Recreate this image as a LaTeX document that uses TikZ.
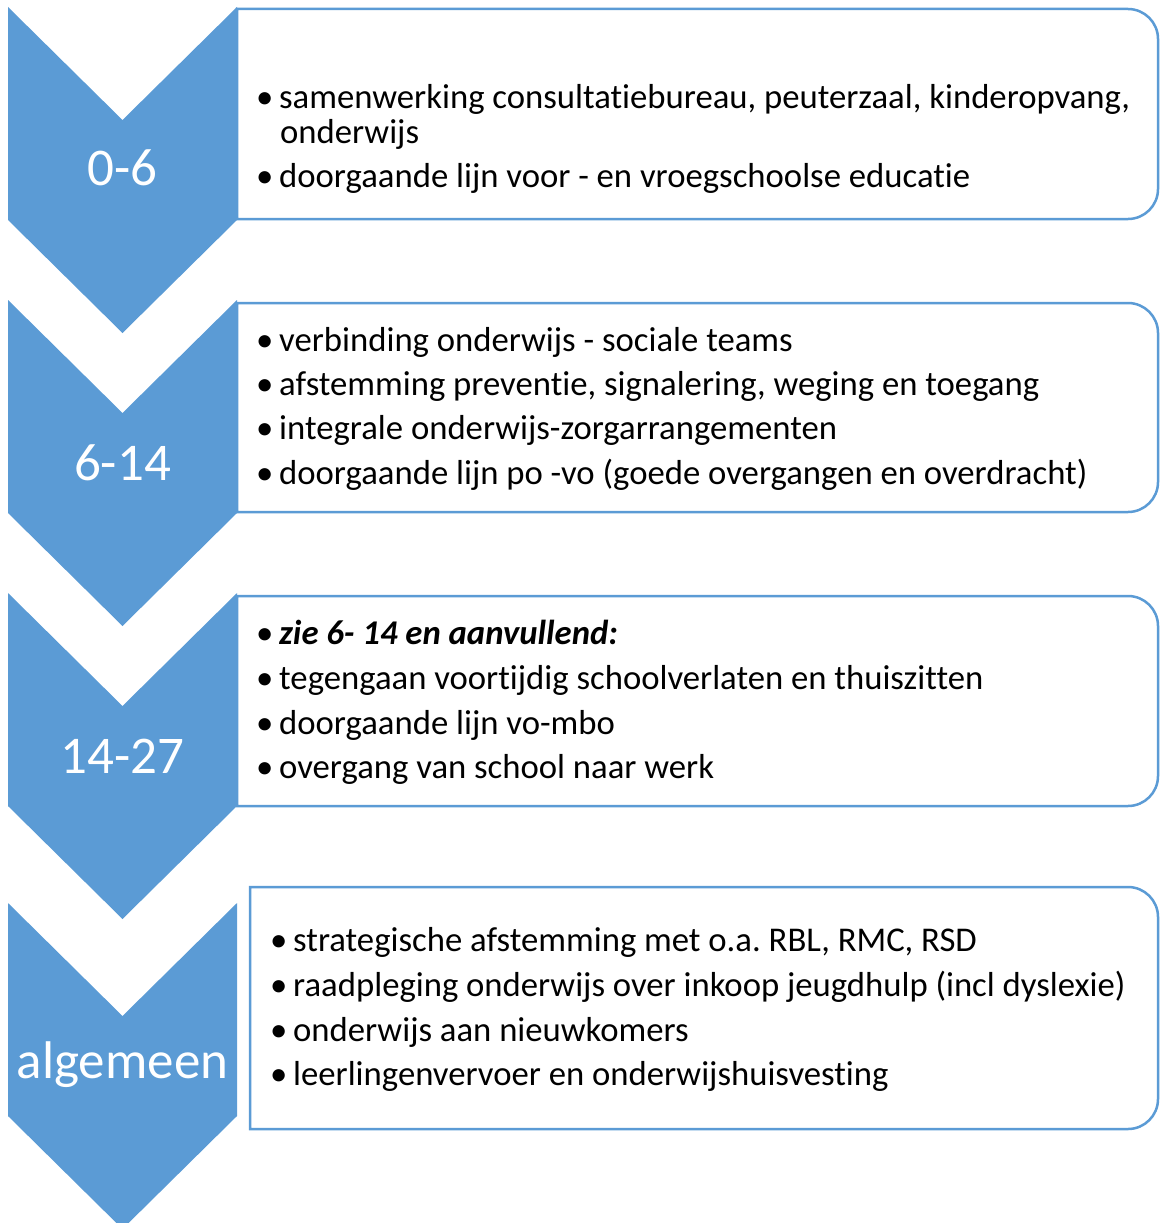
\documentclass[tikz,border=0pt]{standalone}
\usepackage{fontspec}
\setmainfont{Carlito}[Ligatures=NoCommon]
\usepackage{xcolor}
\usepackage{tikz}
\definecolor{accblue}{HTML}{5B9BD5}
\frenchspacing
\newcommand\itm{\makebox[23pt][l]{\textbullet}}
\newcommand\bodysize{\fontsize{34.7}{40}\selectfont}
\newcommand\agesize{\fontsize{53}{62}\selectfont}

\begin{document}
\begin{tikzpicture}[x=1pt,y=-1pt,
    line/.style={anchor=base west, inner sep=0pt, font=\bodysize},
    age/.style={text=white, inner sep=0pt, font=\agesize},
    panel/.style={draw=accblue, line width=2.5pt, fill=white}]
    \useasboundingbox (0,0) rectangle (1160,1223);

    % chevrons
    \fill[accblue] (8,7) -- (122.5,120) -- (237,7) -- (237,220) -- (122.5,333) -- (8,220) -- cycle;
    \fill[accblue] (8,300) -- (122.5,413) -- (237,300) -- (237,513) -- (122.5,626) -- (8,513) -- cycle;
    \fill[accblue] (8,593) -- (122.5,706) -- (237,593) -- (237,806) -- (122.5,919) -- (8,806) -- cycle;
    \fill[accblue] (8,903) -- (122.5,1016) -- (237,903) -- (237,1116) -- (122.5,1229) -- (8,1116) -- cycle;

    % panels
    \draw[panel] (237,9) -- (1128,9) arc[start angle=-90, end angle=0, radius=30]
        -- (1158,189) arc[start angle=0, end angle=90, radius=30] -- (237,219) -- cycle;
    \draw[panel] (237,303) -- (1128,303) arc[start angle=-90, end angle=0, radius=30]
        -- (1158,482) arc[start angle=0, end angle=90, radius=30] -- (237,512) -- cycle;
    \draw[panel] (237,596) -- (1128,596) arc[start angle=-90, end angle=0, radius=30]
        -- (1158,776) arc[start angle=0, end angle=90, radius=30] -- (237,806) -- cycle;
    \draw[panel] (250,887) -- (1128,887) arc[start angle=-90, end angle=0, radius=30]
        -- (1158,1099) arc[start angle=0, end angle=90, radius=30] -- (250,1129) -- cycle;

    \coordinate (Agea) at (122.5,168);
    \coordinate (Ageb) at (122.5,463);
    \coordinate (Agec) at (122.5,756);
    \coordinate (Aged) at (122.5,1065);

    \coordinate (Pa) at (256,108);
    \coordinate (Pawrap) at (280,143);
    \coordinate (Pb) at (256,187);

    \coordinate (Qa) at (256,351);
    \coordinate (Qb) at (256,395);
    \coordinate (Qc) at (256,439);
    \coordinate (Qd) at (256,484);

    \coordinate (Ra) at (256,644);
    \coordinate (Rb) at (256,689);
    \coordinate (Rc) at (256,734);
    \coordinate (Rd) at (256,778);

    \coordinate (Sa) at (270,951);
    \coordinate (Sb) at (270,996);
    \coordinate (Sc) at (270,1041);
    \coordinate (Sd) at (270,1085);

    \draw[age] (Agea) node (agea) {0-6};
    \draw[age] (Ageb) node (ageb) {6-14};
    \draw[age] (Agec) node (agec) {14-27};
    \draw[age] (Aged) node (aged) {algemeen};

    \draw[line] (Pa) node (pa) {\itm samenwerking consultatiebureau, peuterzaal, kinderopvang,};
    \draw[line] (Pawrap) node (pawrap) {onderwijs};
    \draw[line] (Pb) node (pb) {\itm doorgaande lijn voor - en vroegschoolse educatie};

    \draw[line] (Qa) node (qa) {\itm verbinding onderwijs - sociale teams};
    \draw[line] (Qb) node (qb) {\itm afstemming preventie, signalering, weging en toegang};
    \draw[line] (Qc) node (qc) {\itm integrale onderwijs-zorgarrangementen};
    \draw[line] (Qd) node (qd) {\itm doorgaande lijn po -vo (goede overgangen en overdracht)};

    \draw[line] (Ra) node (ra) {\itm\textbf{\textit{zie 6- 14 en aanvullend:}}};
    \draw[line] (Rb) node (rb) {\itm tegengaan voortijdig schoolverlaten en thuiszitten};
    \draw[line] (Rc) node (rc) {\itm doorgaande lijn vo-mbo};
    \draw[line] (Rd) node (rd) {\itm overgang van school naar werk};

    \draw[line] (Sa) node (sa) {\itm strategische afstemming met o.a. RBL, RMC, RSD};
    \draw[line] (Sb) node (sb) {\itm raadpleging onderwijs over inkoop jeugdhulp (incl dyslexie)};
    \draw[line] (Sc) node (sc) {\itm onderwijs aan nieuwkomers};
    \draw[line] (Sd) node (sd) {\itm leerlingenvervoer en onderwijshuisvesting};
  \end{tikzpicture}
\end{document}
